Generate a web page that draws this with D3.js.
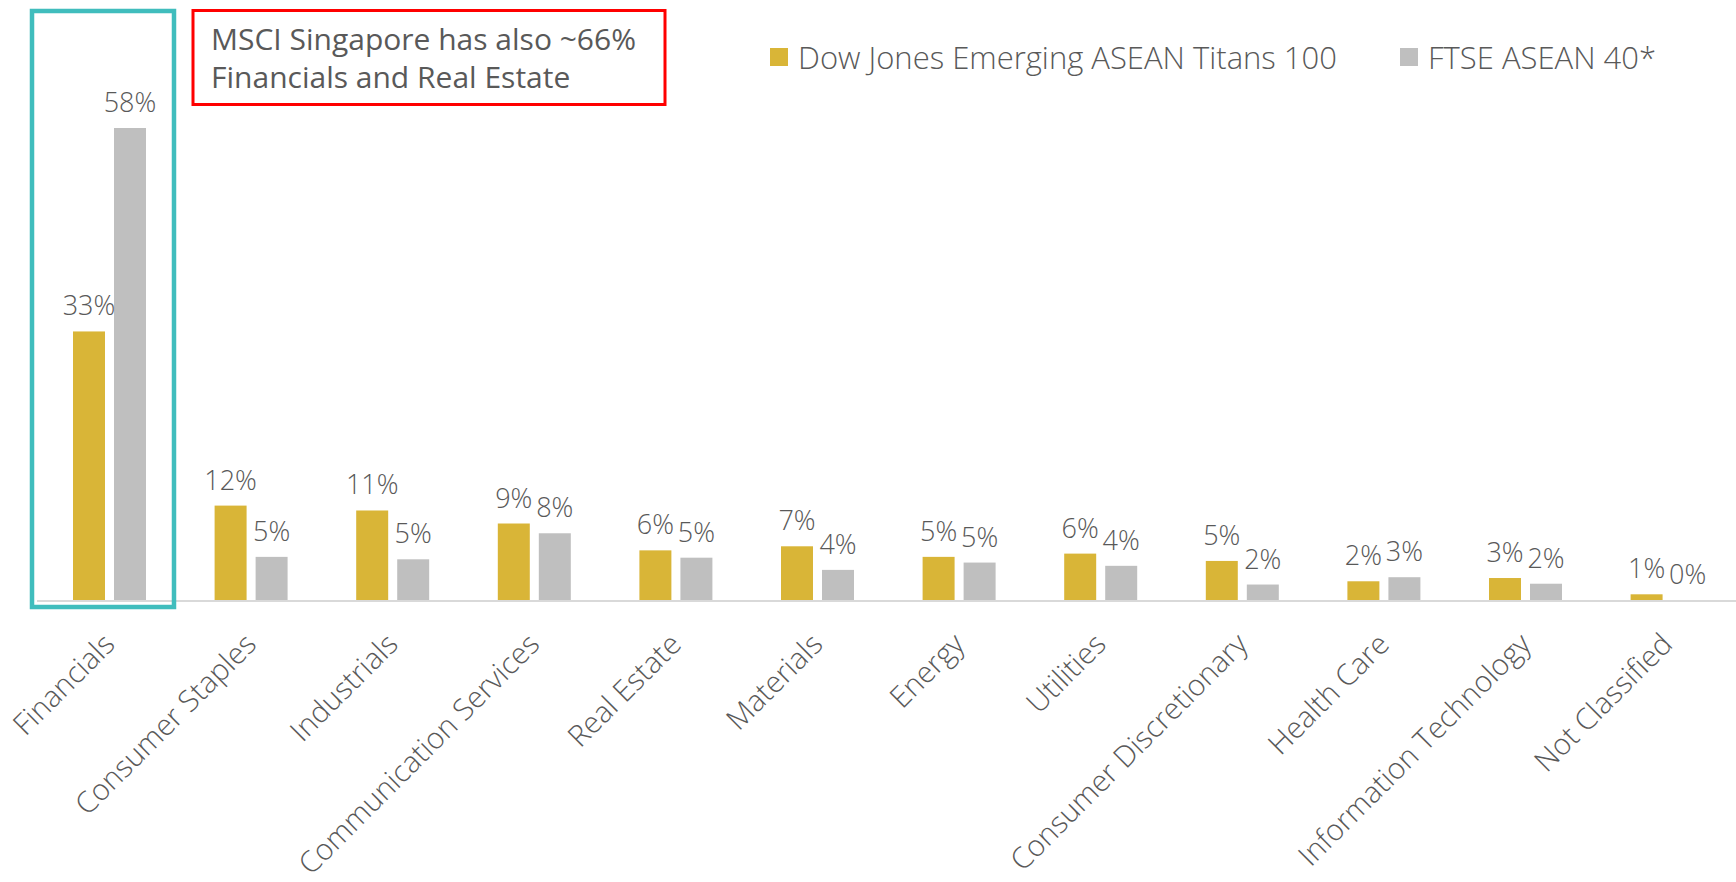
<!DOCTYPE html>
<html>
<head>
<meta charset="utf-8">
<script src="https://cdn.jsdelivr.net/npm/d3@7"></script>
<style>
  html, body { margin: 0; padding: 0; background: #ffffff; }
  svg { display: block; }
  text { font-family: "Open Sans", "Noto Sans", sans-serif; fill: #595959; }
</style>
</head>
<body>
<svg id="chart" width="1736" height="882"></svg>
<script>
const categories = ["Financials", "Consumer Staples", "Industrials", "Communication Services", "Real Estate", "Materials", "Energy", "Utilities", "Consumer Discretionary", "Health Care", "Information Technology", "Not Classified"];
const seriesNames = ["Dow Jones Emerging ASEAN Titans 100", "FTSE ASEAN 40*"];
const dowJonesValues = [33.0, 11.6, 11.0, 9.4, 6.1, 6.6, 5.3, 5.7, 4.8, 2.3, 2.7, 0.7];
const ftseValues = [58.0, 5.3, 5.0, 8.2, 5.2, 3.7, 4.6, 4.2, 1.9, 2.8, 2.0, 0.0];
const seriesColors = ["#D9B537", "#BFBFBF"];
const annotationLines = ["MSCI Singapore has also ~66%", "Financials and Real Estate"];
const highlightCategory = "Financials";

const svg = d3.select("#chart");
const baseY = 600;

const x0 = d3.scaleBand().domain(categories).range([73, 1703.6]).paddingInner(0.4845).paddingOuter(0);
const x1 = d3.scaleBand().domain(seriesNames).range([0, x0.bandwidth()]).paddingInner(0.22);
const y = d3.scaleLinear().domain([0, 60]).range([baseY, baseY - 60 * (472 / 58)]);

const seriesValues = [dowJonesValues, ftseValues];
const rows = categories.map((c, i) => ({
  cat: c,
  vals: seriesNames.map((s, j) => ({ s, j, v: seriesValues[j][i] }))
}));

// axis line
svg.append("line")
  .attr("x1", 37).attr("x2", 1736)
  .attr("y1", baseY + 1).attr("y2", baseY + 1)
  .attr("stroke", "#D9D9D9").attr("stroke-width", 2);

const groups = svg.selectAll("g.cat").data(rows).join("g")
  .attr("class", "cat")
  .attr("transform", d => `translate(${x0(d.cat)},0)`);

groups.selectAll("rect").data(d => d.vals).join("rect")
  .attr("x", d => x1(d.s))
  .attr("width", x1.bandwidth())
  .attr("y", d => y(d.v))
  .attr("height", d => baseY - y(d.v))
  .attr("fill", d => seriesColors[d.j]);

const fmt = d3.format(".0f");
groups.selectAll("text.val").data(d => d.vals).join("text")
  .attr("class", "val")
  .attr("x", d => x1(d.s) + x1.bandwidth() / 2)
  .attr("y", d => y(d.v) - 16)
  .attr("text-anchor", "middle")
  .style("font-size", "27px")
  .style("font-weight", 300)
  .text(d => fmt(d.v) + "%");

// category axis labels
const xAxis = d3.axisBottom(x0).tickSize(0).tickPadding(0);
const axisG = svg.append("g").attr("transform", `translate(0,${baseY})`).call(xAxis);
axisG.select(".domain").remove();
axisG.selectAll(".tick text")
  .attr("x", 0).attr("y", 0).attr("dy", 0)
  .attr("text-anchor", "end")
  .attr("transform", "translate(7,46) rotate(-45)")
  .style("font-size", "29.5px")
  .style("font-weight", 300)
  .style("font-family", "'Open Sans', 'Noto Sans', sans-serif")
  .attr("fill", "#595959");

// highlight box around Financials
svg.append("rect")
  .attr("x", x0(highlightCategory) - 41)
  .attr("y", 11)
  .attr("width", x0.bandwidth() + 69)
  .attr("height", 596)
  .attr("fill", "none")
  .attr("stroke", "#40BDBD")
  .attr("stroke-width", 4.5);

// annotation box
svg.append("rect")
  .attr("x", 193).attr("y", 10.5)
  .attr("width", 472).attr("height", 94)
  .attr("fill", "none")
  .attr("stroke", "#FF0000")
  .attr("stroke-width", 3);

svg.append("g").selectAll("text").data(annotationLines).join("text")
  .attr("x", 211)
  .attr("y", (d, i) => 50 + i * 38)
  .style("font-size", "30px")
  .text(d => d);

// legend
const legendX = [770, 1400];
const legend = svg.append("g").selectAll("g").data(seriesNames).join("g")
  .attr("transform", (d, i) => `translate(${legendX[i]},48)`);
legend.append("rect")
  .attr("width", 18).attr("height", 18)
  .attr("fill", (d, i) => seriesColors[i]);
legend.append("text")
  .attr("x", 28).attr("y", 21)
  .style("font-size", "31px")
  .style("font-weight", 300)
  .text(d => d);
</script>
</body>
</html>
